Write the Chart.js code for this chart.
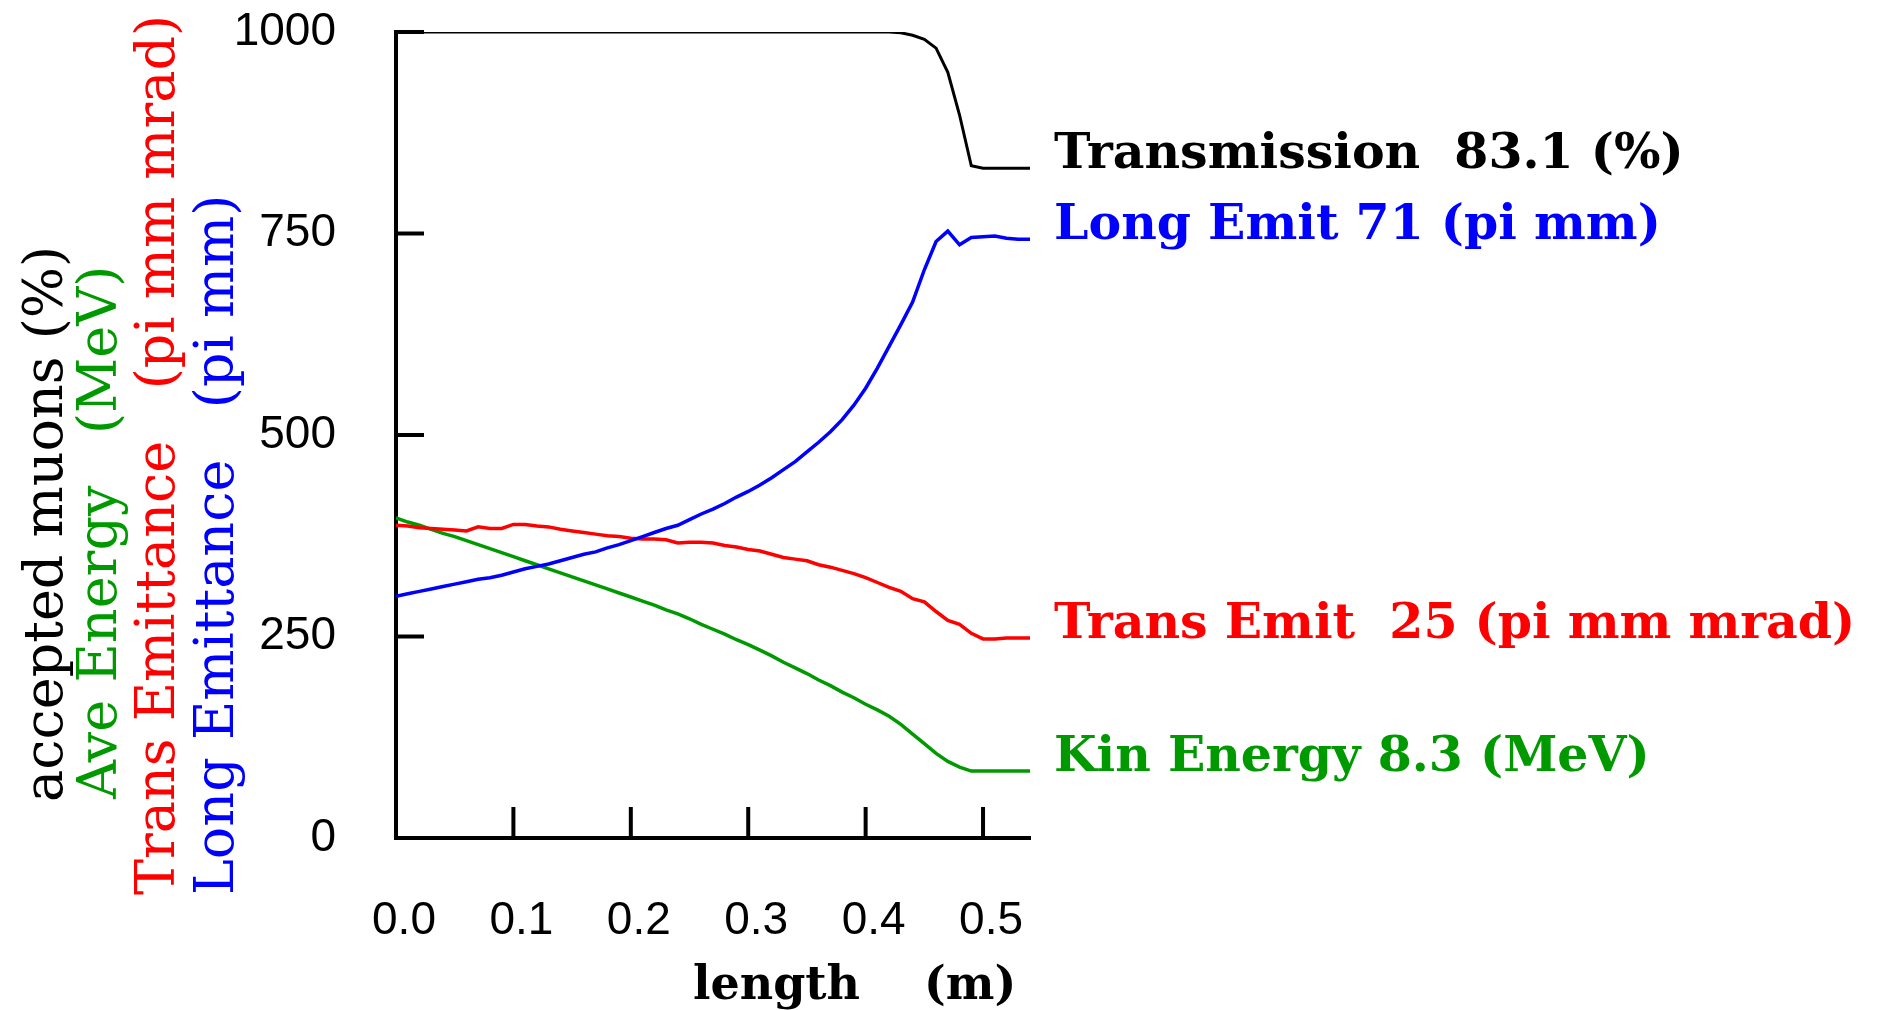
<!DOCTYPE html>
<html>
<head>
<meta charset="utf-8">
<script src="https://cdn.jsdelivr.net/npm/chart.js@4.4.1/dist/chart.umd.min.js"></script>
<style>
  html, body { margin: 0; padding: 0; background: #fff; }
  #wrap { width: 1883px; height: 1010px; position: relative; }
</style>
</head>
<body>
<div id="wrap"><canvas id="myChart"></canvas></div>
<script>
// length along the channel (m)
const lengthM = [
  0.00, 0.01, 0.02, 0.03, 0.04, 0.05, 0.06, 0.07, 0.08, 0.09,
  0.10, 0.11, 0.12, 0.13, 0.14, 0.15, 0.16, 0.17, 0.18, 0.19,
  0.20, 0.21, 0.22, 0.23, 0.24, 0.25, 0.26, 0.27, 0.28, 0.29,
  0.30, 0.31, 0.32, 0.33, 0.34, 0.35, 0.36, 0.37, 0.38, 0.39,
  0.40, 0.41, 0.42, 0.43, 0.44, 0.45, 0.46, 0.47, 0.48, 0.49,
  0.50, 0.51, 0.52, 0.53, 0.54,
];

const transmission = [
  1000, 1000, 1000, 1000, 1000, 1000, 1000, 1000, 1000, 1000,
  1000, 1000, 1000, 1000, 1000, 1000, 1000, 1000, 1000, 1000,
  1000, 1000, 1000, 1000, 1000, 1000, 1000, 1000, 1000, 1000,
  1000, 1000, 1000, 1000, 1000, 1000, 1000, 1000, 1000, 1000,
  1000, 1000, 1000, 999, 996, 991, 980, 950, 897, 834,
  831, 831, 831, 831, 831,
];

const longEmit = [
  300, 303, 306, 309, 312, 315, 318, 321, 323, 326,
  330, 334, 337, 340, 344, 348, 352, 355, 360, 364,
  369, 374, 379, 384, 388, 395, 402, 408, 415, 423,
  430, 438, 447, 457, 467, 479, 491, 504, 519, 537,
  558, 583, 610, 637, 665, 705, 740, 753, 736, 745,
  746, 747, 744, 743, 743,
];

const transEmit = [
  388, 387, 385, 384, 383, 382, 381, 386, 384, 384,
  389, 389, 387, 386, 383, 381, 379, 377, 375, 374,
  372, 371, 371, 370, 366, 367, 367, 366, 363, 361,
  358, 356, 352, 348, 346, 344, 339, 336, 332, 328,
  323, 317, 311, 306, 297, 293, 281, 270, 265, 254,
  247, 247, 248, 248, 248,
];

const kinEnergy = [
  397, 392, 388, 383, 378, 374, 369, 364, 359, 354,
  349, 344, 339, 334, 329, 324, 319, 314, 309, 304,
  299, 294, 289, 283, 278, 272, 265, 259, 253, 246,
  240, 233, 226, 218, 211, 204, 196, 189, 181, 174,
  166, 159, 151, 141, 129, 117, 105, 95, 88, 83,
  83, 83, 83, 83, 83,
];

const seriesNames = ["Transmission", "Long Emit", "Trans Emit", "Kin Energy"];
const endLabels = [
  "Transmission  83.1 (%)",
  "Long Emit 71 (pi mm)",
  "Trans Emit  25 (pi mm mrad)",
  "Kin Energy 8.3 (MeV)",
];
const yTitles = [
  "accepted muons (%)",
  "Ave Energy   (MeV)",
  "Trans Emittance   (pi mm mrad)",
  "Long Emittance   (pi mm)",
];
const xTitle = "length    (m)";
const yTicks = [0, 250, 500, 750, 1000];
const xTicks = [0.0, 0.1, 0.2, 0.3, 0.4, 0.5];

const BLACK = "#000000";
const BLUE = "#0000ff";
const RED = "#ff0000";
const GREEN = "#009a00";
const seriesColors = [BLACK, BLUE, RED, GREEN];
const titleColors = [BLACK, GREEN, RED, BLUE];

const SANS = "'Liberation Sans Narrow', 'Liberation Sans', sans-serif";
const SERIF = "'DejaVu Serif', serif";

function points(ys) {
  return lengthM.map((x, i) => ({ x: x, y: ys[i] }));
}

const seriesData = [transmission, longEmit, transEmit, kinEnergy];

// ticks point into the plot, gnuplot style
const inwardTicks = {
  id: "inwardTicks",
  afterDraw(chart) {
    const { ctx, chartArea, scales } = chart;
    ctx.save();
    ctx.strokeStyle = BLACK;
    ctx.lineWidth = 4;
    yTicks.forEach((v) => {
      if (v === 0) return;
      const y = scales.y.getPixelForValue(v);
      ctx.beginPath();
      ctx.moveTo(chartArea.left, y);
      ctx.lineTo(chartArea.left + 28, y);
      ctx.stroke();
    });
    xTicks.forEach((v) => {
      if (v === 0) return;
      const x = scales.x.getPixelForValue(v);
      ctx.beginPath();
      ctx.moveTo(x, chartArea.bottom);
      ctx.lineTo(x, chartArea.bottom - 31);
      ctx.stroke();
    });
    ctx.restore();
  },
};

// labels at the right end of each curve
const endLabelPlugin = {
  id: "endLabels",
  afterDraw(chart) {
    const { ctx, scales } = chart;
    ctx.save();
    ctx.font = "bold 49px " + SERIF;
    ctx.textAlign = "left";
    ctx.textBaseline = "alphabetic";
    seriesData.forEach((ys, i) => {
      const y = scales.y.getPixelForValue(ys[ys.length - 1]);
      ctx.fillStyle = seriesColors[i];
      ctx.fillText(endLabels[i], scales.x.right + 24, y);
    });
    ctx.restore();
  },
};

// stacked rotated y titles + x title
const titlesPlugin = {
  id: "titles",
  afterDraw(chart) {
    const { ctx } = chart;
    const cols = [48, 102, 160, 219];
    const starts = [802, 799, 895, 895];
    ctx.save();
    ctx.font = "54px " + SERIF;
    ctx.textAlign = "left";
    ctx.textBaseline = "middle";
    yTitles.forEach((t, i) => {
      ctx.save();
      ctx.translate(cols[i], starts[i]);
      ctx.rotate(-Math.PI / 2);
      ctx.fillStyle = titleColors[i];
      ctx.fillText(t, 0, 0);
      ctx.restore();
    });
    ctx.font = "bold 46px " + SERIF;
    ctx.fillStyle = BLACK;
    ctx.textBaseline = "alphabetic";
    ctx.fillText(xTitle, 693, 999);
    ctx.restore();
  },
};

const ctx = document.getElementById("myChart").getContext("2d");
const myChart = new Chart(ctx, {
  type: "line",
  data: {
    datasets: seriesData.map((ys, i) => ({
      label: seriesNames[i],
      data: points(ys),
      borderColor: seriesColors[i],
      backgroundColor: seriesColors[i],
      borderWidth: i === 0 ? 3 : 3.5,
      pointRadius: 0,
      tension: 0,
      fill: false,
    })),
  },
  options: {
    responsive: true,
    maintainAspectRatio: false,
    animation: false,
    layout: {
      padding: { top: 0, right: 853, left: 0, bottom: 0 },
    },
    scales: {
      x: {
        type: "linear",
        min: 0,
        max: 0.54,
        grid: { display: true, drawOnChartArea: false, drawTicks: false },
        border: { display: true, color: BLACK, width: 4 },
        ticks: {
          stepSize: 0.1,
          includeBounds: false,
          autoSkip: false,
          maxRotation: 0,
          padding: 56,
          labelOffset: 8,
          color: BLACK,
          font: { family: SANS, size: 46 },
          callback: function (value) {
            return Number(value).toFixed(1);
          },
        },
        afterFit: function (scale) {
          scale.height = 172;
        },
      },
      y: {
        min: 0,
        max: 1000,
        grid: { display: true, drawOnChartArea: false, drawTicks: false },
        border: { display: true, color: BLACK, width: 4 },
        ticks: {
          stepSize: 250,
          padding: 60,
          color: BLACK,
          font: { family: SANS, size: 46 },
          callback: function (value) {
            return String(value);
          },
        },
        afterFit: function (scale) {
          scale.width = 396;
          scale.paddingTop = 32;
          scale.paddingBottom = 0;
        },
      },
    },
    plugins: {
      legend: { display: false },
      tooltip: { enabled: false },
    },
  },
  plugins: [inwardTicks, endLabelPlugin, titlesPlugin],
});
</script>
</body>
</html>
